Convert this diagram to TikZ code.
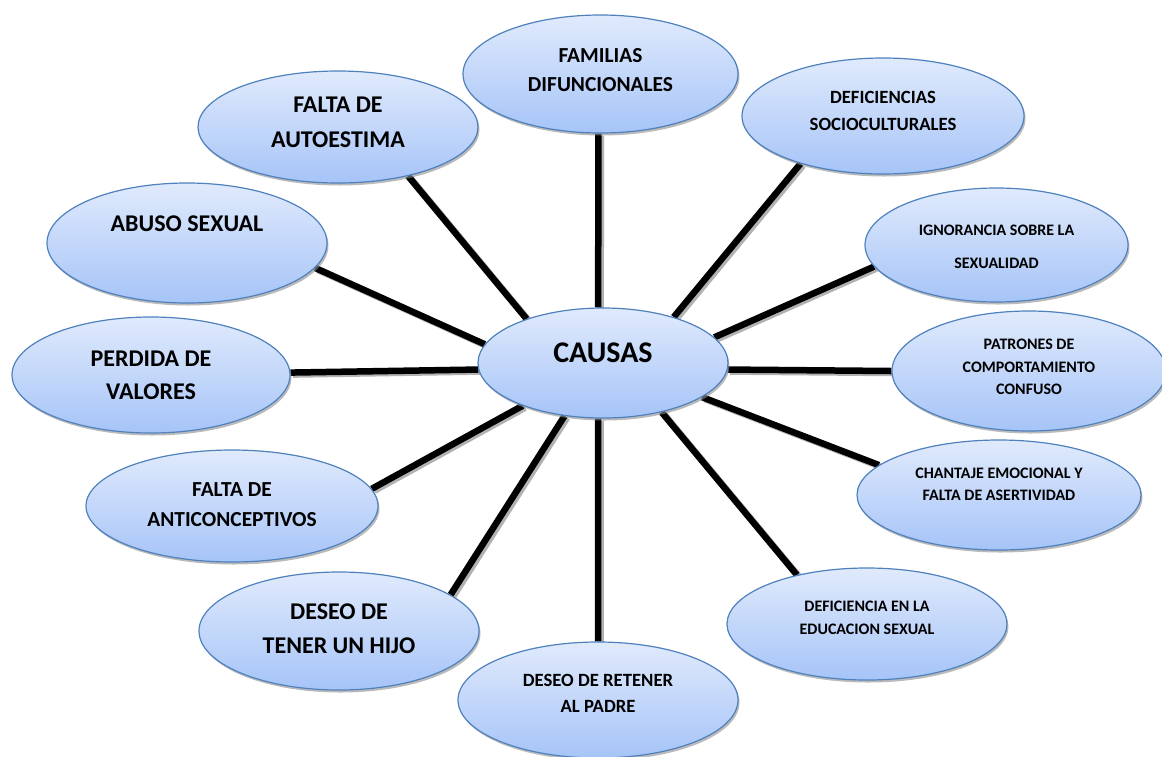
\documentclass[tikz,border=0pt]{standalone}
\usepackage{fontspec}
\setmainfont{Carlito}[BoldFont={Carlito Bold}]
\usetikzlibrary{shapes.geometric,shadows,backgrounds}
\definecolor{bubtop}{RGB}{224,234,252}
\definecolor{bubbot}{RGB}{166,196,248}
\definecolor{bubedge}{RGB}{79,129,189}

\begin{document}
\begin{tikzpicture}[x=1pt,y=-1pt,
    bubble/.style={ellipse, draw=bubedge, line width=1.2pt, inner sep=0pt,
        top color=bubtop, bottom color=bubbot,
        drop shadow={shadow xshift=1.5pt, shadow yshift=-2.5pt, fill=black!45, opacity=.6}},
    txt/.style={align=center, inner sep=0pt},
    spoke/.style={line width=6.5pt, draw=black,
        preaction={draw=black!30, line width=6.5pt, transform canvas={shift={(2.5pt,-2pt)}}}}]
    \useasboundingbox (0,0) rectangle (1162,756);

    \node[bubble, minimum width=250pt, minimum height=110pt] (causas) at (603,363) {};
    \node[bubble, minimum width=275pt, minimum height=118pt] (fam) at (600.5,74) {};
    \node[bubble, minimum width=282pt, minimum height=116pt] (soc) at (883,116) {};
    \node[bubble, minimum width=263pt, minimum height=114pt] (ign) at (996.5,245) {};
    \node[bubble, minimum width=274pt, minimum height=120pt] (pat) at (1029,371) {};
    \node[bubble, minimum width=284pt, minimum height=110pt] (cha) at (999,495) {};
    \node[bubble, minimum width=280pt, minimum height=112pt] (edu) at (867,624) {};
    \node[bubble, minimum width=280pt, minimum height=116pt] (ret) at (598,700) {};
    \node[bubble, minimum width=280pt, minimum height=118pt] (hijo) at (339,631) {};
    \node[bubble, minimum width=292pt, minimum height=112pt] (anti) at (232,506) {};
    \node[bubble, minimum width=278pt, minimum height=116pt] (val) at (151,375) {};
    \node[bubble, minimum width=280pt, minimum height=120pt] (abu) at (187,243) {};
    \node[bubble, minimum width=280pt, minimum height=112pt] (aut) at (338,127) {};

    \begin{scope}[on background layer]
        \draw[spoke] (causas.95) -- (fam.-92);
        \draw[spoke] (causas.33) -- (soc.210);
        \draw[spoke] (causas.13) -- (ign.190);
        \draw[spoke] (causas.-3) -- (pat.180);
        \draw[spoke] (causas.-19) -- (cha.166);
        \draw[spoke] (causas.-40) -- (edu.145);
        \draw[spoke] (causas.-95) -- (ret.90);
        \draw[spoke] (causas.-126) -- (hijo.18);
        \draw[spoke] (causas.-152) -- (anti.7);
        \draw[spoke] (causas.183) -- (val.1);
        \draw[spoke] (causas.171) -- (abu.-11);
        \draw[spoke] (causas.150) -- (aut.-35);
    \end{scope}

    \node[txt, font=\fontsize{30}{36}\selectfont\bfseries] (causas-t) at ([yshift=10pt]causas.center) {CAUSAS};
    \node[txt, font=\fontsize{21.4}{29}\selectfont\bfseries] (fam-t) at ([yshift=4pt]fam.center) {FAMILIAS\\DIFUNCIONALES};
    \node[txt, font=\fontsize{18.7}{27}\selectfont\bfseries] (soc-t) at ([yshift=5.5pt]soc.center) {DEFICIENCIAS\\SOCIOCULTURALES};
    \node[txt, font=\fontsize{16}{33}\selectfont\bfseries] (ign-t) at ([yshift=-1.5pt]ign.center) {IGNORANCIA SOBRE LA\\SEXUALIDAD};
    \node[txt, font=\fontsize{16}{22.5}\selectfont\bfseries] (pat-t) at ([yshift=4pt]pat.center) {PATRONES DE\\COMPORTAMIENTO\\CONFUSO};
    \node[txt, font=\fontsize{16}{22}\selectfont\bfseries] (cha-t) at ([yshift=11pt]cha.center) {CHANTAJE EMOCIONAL Y\\FALTA DE ASERTIVIDAD};
    \node[txt, font=\fontsize{16}{23}\selectfont\bfseries] (edu-t) at ([yshift=6.5pt]edu.center) {DEFICIENCIA EN LA\\EDUCACION SEXUAL};
    \node[txt, font=\fontsize{18.7}{26}\selectfont\bfseries] (ret-t) at ([yshift=7pt]ret.center) {DESEO DE RETENER\\AL PADRE};
    \node[txt, font=\fontsize{24}{34}\selectfont\bfseries] (hijo-t) at ([yshift=2pt]hijo.center) {DESEO DE\\TENER UN HIJO};
    \node[txt, font=\fontsize{21.4}{30}\selectfont\bfseries] (anti-t) at ([yshift=1pt]anti.center) {FALTA DE\\ANTICONCEPTIVOS};
    \node[txt, font=\fontsize{24}{33}\selectfont\bfseries] (val-t) at (val.center) {PERDIDA DE\\VALORES};
    \node[txt, font=\fontsize{24}{30}\selectfont\bfseries] (abu-t) at ([yshift=19pt]abu.center) {ABUSO SEXUAL};
    \node[txt, font=\fontsize{24}{35}\selectfont\bfseries] (aut-t) at ([yshift=4.5pt]aut.center) {FALTA DE\\AUTOESTIMA};
\end{tikzpicture}
\end{document}
